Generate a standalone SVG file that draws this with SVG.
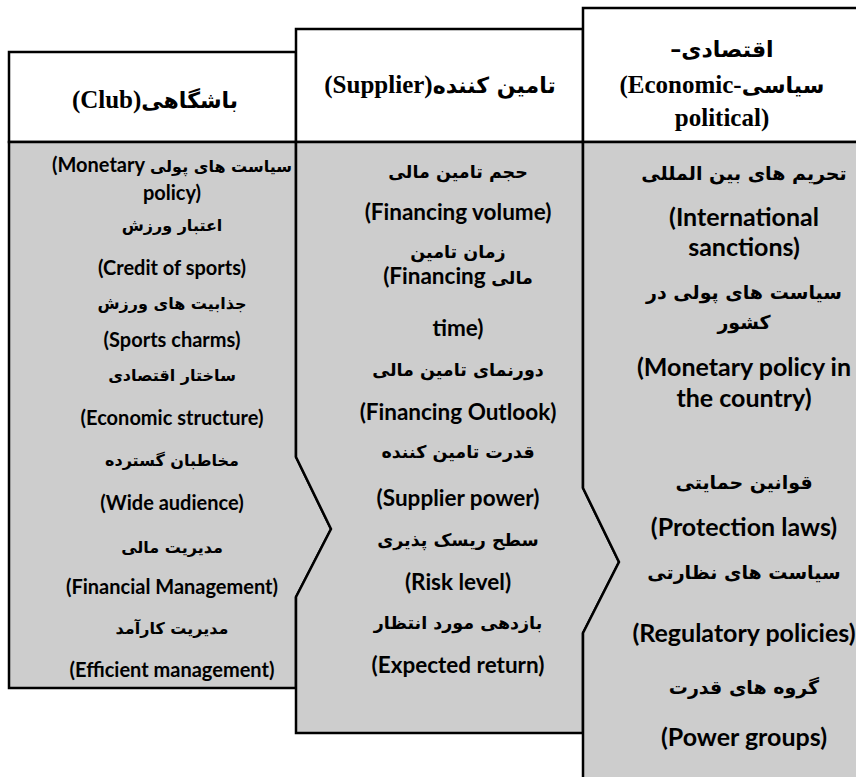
<svg xmlns="http://www.w3.org/2000/svg" width="856" height="777" viewBox="0 0 856 777">
<style>
.hd{fill:#fff;stroke:#000;stroke-width:2.5}
.bd{fill:#cdcdcd;stroke:#000;stroke-width:2.5;stroke-linejoin:miter}
text{fill:#000;font-weight:bold;text-anchor:middle}
.h{font-family:"Liberation Serif","DejaVu Sans",serif;font-size:25px}
.hf{font-family:"DejaVu Sans",sans-serif;font-size:22px}
.e1{font-family:Lato,"DejaVu Sans",sans-serif;font-size:20px}
.f1{font-family:"DejaVu Sans",sans-serif;font-size:16px}
.e2{font-family:Lato,"DejaVu Sans",sans-serif;font-size:22.5px}
.f2{font-family:"DejaVu Sans",sans-serif;font-size:17.5px}
.e3{font-family:Lato,"DejaVu Sans",sans-serif;font-size:25px}
.f3{font-family:"DejaVu Sans",sans-serif;font-size:19px}
</style>
<g id="club">
<rect class="hd" x="9" y="52" width="287" height="90"/>
<polygon class="bd" points="9,142 296,142 296,457 331,529 296,597 296,688 9,688"/>
<text class="h" x="155" y="108" direction="rtl"><tspan class="hf">باشگاهی</tspan>&#x2066;(Club)&#x2069;</text>
<text class="e1" x="172" y="172" direction="rtl"><tspan class="f1">سیاست های پولی</tspan>  &#x2066;(Monetary&#x2069;</text>
<text class="e1" x="172" y="200">policy)</text>
<text class="f1" x="172" y="231" direction="rtl">اعتبار ورزش</text>
<text class="e1" x="172" y="275">(Credit of sports)</text>
<text class="f1" x="172" y="309" direction="rtl">جذابیت های ورزش</text>
<text class="e1" x="172" y="347">(Sports charms)</text>
<text class="f1" x="172" y="381" direction="rtl">ساختار اقتصادی</text>
<text class="e1" x="172" y="425">(Economic structure)</text>
<text class="f1" x="172" y="466" direction="rtl">مخاطبان گسترده</text>
<text class="e1" x="172" y="510">(Wide audience)</text>
<text class="f1" x="172" y="553" direction="rtl">مدیریت مالی</text>
<text class="e1" x="172" y="594">(Financial Management)</text>
<text class="f1" x="172" y="634" direction="rtl">مدیریت کارآمد</text>
<text class="e1" x="172" y="677">(Efficient management)</text>
</g>
<g id="supplier">
<rect class="hd" x="296" y="29" width="287" height="113"/>
<polygon class="bd" points="296,142 583,142 583,488 619,562 583,633 583,733 296,733 296,597 331,529 296,457"/>
<text class="h" x="440" y="93" direction="rtl"><tspan class="hf">تامین کننده</tspan>&#x2066;(Supplier)&#x2069;</text>
<text class="f2" x="458" y="178" direction="rtl">حجم تامین مالی</text>
<text class="e2" x="458" y="220">(Financing volume)</text>
<text class="f2" x="458" y="258" direction="rtl">زمان تامین</text>
<text class="e2" x="458" y="284" direction="rtl"><tspan class="f2">مالی</tspan> &#x2066;(Financing&#x2069;</text>
<text class="e2" x="458" y="336">time)</text>
<text class="f2" x="458" y="376" direction="rtl">دورنمای تامین مالی</text>
<text class="e2" x="458" y="420">(Financing Outlook)</text>
<text class="f2" x="458" y="458" direction="rtl">قدرت تامین کننده</text>
<text class="e2" x="458" y="506">(Supplier power)</text>
<text class="f2" x="458" y="546" direction="rtl">سطح ریسک پذیری</text>
<text class="e2" x="458" y="590">(Risk level)</text>
<text class="f2" x="458" y="629" direction="rtl">بازدهی مورد انتظار</text>
<text class="e2" x="458" y="673">(Expected return)</text>
</g>
<g id="economic">
<rect class="hd" x="583" y="8" width="290" height="134"/>
<polygon class="bd" points="583,142 873,142 873,790 583,790 583,633 619,562 583,488"/>
<text class="hf" x="722" y="57" direction="rtl">اقتصادی–</text>
<text class="h" x="722" y="93" direction="rtl"><tspan class="hf">سیاسی</tspan>&#x2066;(Economic-&#x2069;</text>
<text class="h" x="722" y="126">political)</text>
<text class="f3" x="744" y="180" direction="rtl">تحریم های بین المللی</text>
<text class="e3" x="744" y="226">(International</text>
<text class="e3" x="744" y="256">sanctions)</text>
<text class="f3" x="744" y="299" direction="rtl">سیاست های پولی در</text>
<text class="f3" x="744" y="329" direction="rtl">کشور</text>
<text class="e3" x="744" y="376">(Monetary policy in</text>
<text class="e3" x="744" y="407">the country)</text>
<text class="f3" x="744" y="489" direction="rtl">قوانین حمایتی</text>
<text class="e3" x="744" y="536">(Protection laws)</text>
<text class="f3" x="744" y="579" direction="rtl">سیاست های نظارتی</text>
<text class="e3" x="744" y="642">(Regulatory policies)</text>
<text class="f3" x="744" y="694" direction="rtl">گروه های قدرت</text>
<text class="e3" x="744" y="746">(Power groups)</text>
</g>
<g id="connectors"/>
</svg>
